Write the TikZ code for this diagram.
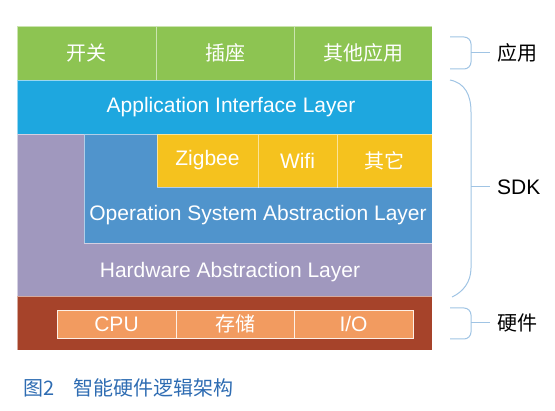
\documentclass[tikz,border=0pt]{standalone}
\usepackage{fontspec}
\usepackage{tikz}
\usetikzlibrary{positioning}
\setmainfont{Liberation Sans}
\newfontfamily\cjk{Noto Sans CJK SC}
\definecolor{appgreen}{RGB}{141,196,82}
\definecolor{apiblue}{RGB}{30,167,223}
\definecolor{osblue}{RGB}{80,148,204}
\definecolor{halpurple}{RGB}{160,152,190}
\definecolor{netyellow}{RGB}{245,194,30}
\definecolor{hwbrown}{RGB}{166,67,42}
\definecolor{hworange}{RGB}{242,155,96}
\definecolor{bracecolor}{RGB}{160,196,228}
\definecolor{captioncolor}{RGB}{46,108,178}

\begin{document}
\begin{tikzpicture}[
    x=1pt, y=1pt,
    box/.style={draw=white, draw opacity=0.55, line width=0.8pt, inner sep=0pt, outer sep=0pt, anchor=north west, text=white, font=\fontsize{21}{24}\selectfont},
    layertext/.style={inner sep=0pt, text=white, font=\fontsize{21}{24}\selectfont},
    zh/.style={font=\cjk\fontsize{20}{24}\selectfont},
    part/.style={draw=white!85!hworange, line width=0.8pt, fill=hworange, inner sep=0pt, outer sep=0pt, minimum height=28pt, text=white, font=\fontsize{21}{24}\selectfont},
    brace/.style={draw=bracecolor, line width=1pt},
    side/.style={anchor=west, inner xsep=7pt, font=\fontsize{21}{24}\selectfont}
]
    \useasboundingbox (0,0) rectangle (555,-411);

    % Applications
    \node[box, zh, fill=appgreen, minimum width=139pt, minimum height=54pt] (switch) at (17,-26) {开关};
    \node[box, zh, fill=appgreen, minimum width=138pt, minimum height=54pt, right=0pt of switch] (socket) {插座};
    \node[box, zh, fill=appgreen, minimum width=138pt, minimum height=54pt, right=0pt of socket] (otherApp) {其他应用};

    % SDK layers
    \node[box, fill=apiblue, minimum width=415pt, minimum height=54pt] (api) at (17,-80) {};
    \node[layertext] (apiText) at (231,-107) {Application Interface Layer};

    \node[box, fill=halpurple, minimum width=415pt, minimum height=162pt] (hal) at (17,-134) {};
    \node[layertext] (halText) at (230,-272) {Hardware Abstraction Layer};

    \node[box, fill=osblue, minimum width=348pt, minimum height=109pt] (osal) at (84,-134) {};
    \node[layertext] (osalText) at (258,-215) {Operation System Abstraction Layer};

    \node[box, fill=netyellow, minimum width=101pt, minimum height=53pt] (zigbee) at (157,-134) {Zigbee};
    \node[box, fill=netyellow, minimum width=79pt, minimum height=53pt, right=0pt of zigbee] (wifi) {Wifi};
    \node[box, zh, fill=netyellow, minimum width=95pt, minimum height=53pt, right=0pt of wifi] (otherNet) {其它};

    % Hardware
    \node[box, fill=hwbrown, minimum width=415pt, minimum height=54pt] (hw) at (17,-296) {};
    \node[part, minimum width=119pt, anchor=west] (cpu) at (57,-324) {CPU};
    \node[part, zh, minimum width=118pt, right=0pt of cpu] (storage) {存储};
    \node[part, minimum width=119pt, right=0pt of storage] (io) {I/O};

    % Braces
    \coordinate (appTip) at (471,-53);
    \coordinate (sdkTip) at (471,-187);
    \coordinate (hwTip) at (471,-323);
    \draw[brace, rounded corners=7pt] (450,-37) -- (471,-37) -- (471,-69) -- (450,-69);
    \draw[brace] (450,-80) .. controls (465,-83) and (471,-95) .. (471,-112) -- (471,-268) .. controls (471,-282) and (463,-292) .. (452,-297);
    \draw[brace, rounded corners=7pt] (450,-308) -- (471,-308) -- (471,-339) -- (450,-339);

    \node[side, zh] (appLbl) at (490,-53) {应用};
    \node[side] (sdkLbl) at (490,-187) {SDK};
    \node[side, zh] (hwLbl) at (490,-323) {硬件};
    \draw[brace] (appTip) -- (appLbl.west);
    \draw[brace] (sdkTip) -- (sdkLbl.west);
    \draw[brace] (hwTip) -- (hwLbl.west);

    % Caption
    \node[anchor=west, inner sep=0pt, text=captioncolor, font=\cjk\fontsize{20}{22}\selectfont] (caption) at (23,-388) {图2\hspace{19pt}智能硬件逻辑架构};
\end{tikzpicture}
\end{document}
